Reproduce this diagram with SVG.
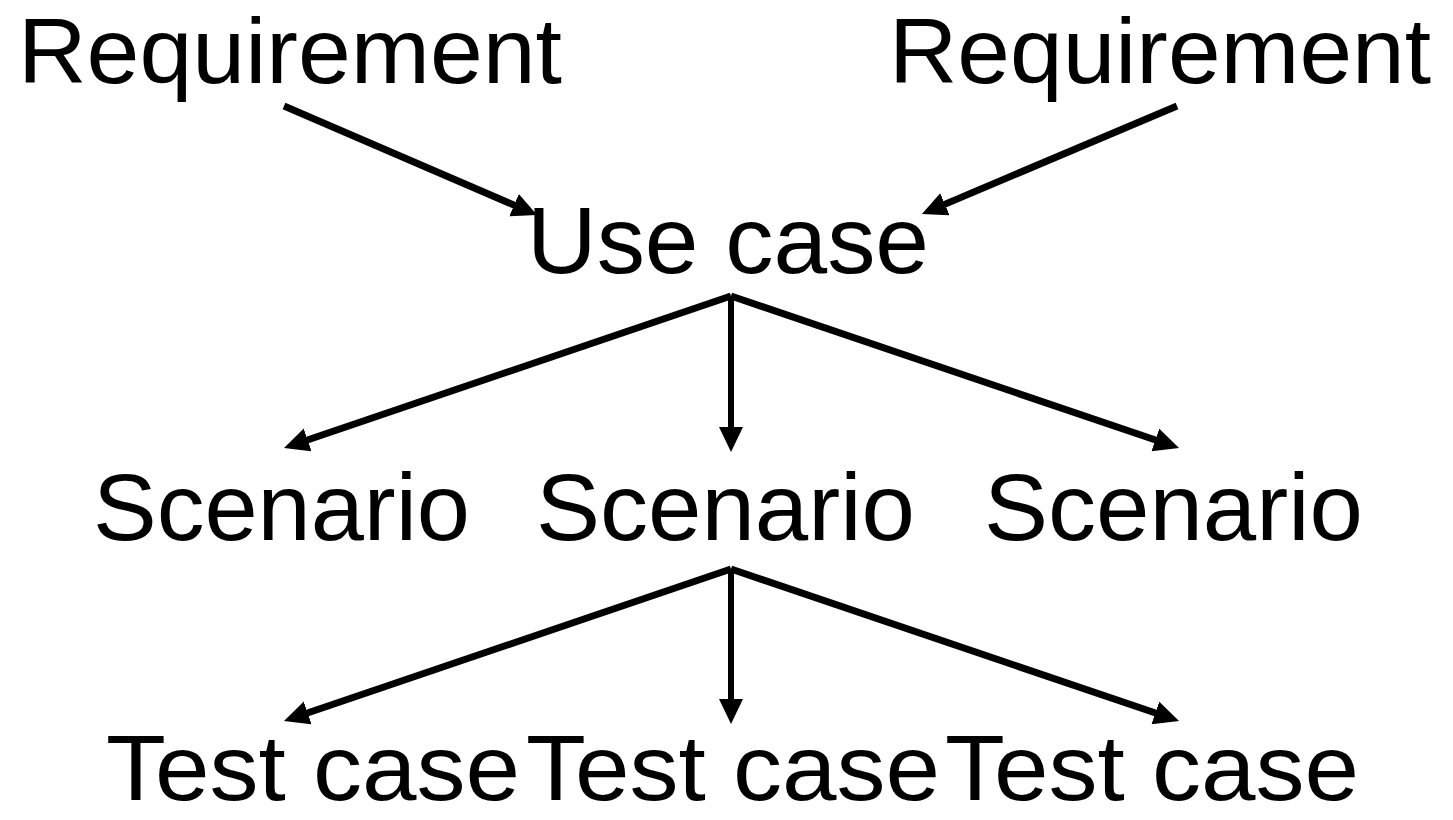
<svg xmlns="http://www.w3.org/2000/svg" width="1453" height="820" viewBox="0 0 1453 820">
  <style>
    .label { font-family: "Liberation Sans", Arial, sans-serif; font-size: 94px; fill: #000; }
    .top { font-size: 93px; }
    .small { font-size: 93px; }
    .edge { stroke: #000; stroke-width: 7; fill: none; marker-end: url(#arrow); }
    .edge.v { stroke-width: 6; }
  </style>
  <defs>
    <!-- head starts where the line ends, tip lies 24px further on -->
    <marker id="arrow" markerUnits="userSpaceOnUse" markerWidth="27" markerHeight="26" refX="1" refY="12" orient="auto">
      <path d="M0,0 L25,12 L0,24 Z" fill="#000"/>
    </marker>
  </defs>
  <rect width="1453" height="820" fill="#fff"/>

  <g id="connectors">
    <line class="edge" x1="284" y1="106" x2="515" y2="205.5"/>
    <line class="edge" x1="1177" y1="106" x2="944" y2="204.6"/>
    <line class="edge" x1="731" y1="296" x2="306.7" y2="440.3"/>
    <line class="edge v" x1="731" y1="296" x2="731" y2="428"/>
    <line class="edge" x1="731" y1="296" x2="1156.3" y2="440.3"/>
    <line class="edge" x1="731" y1="569" x2="306.7" y2="713.3"/>
    <line class="edge v" x1="731" y1="569" x2="731" y2="700"/>
    <line class="edge" x1="731" y1="569" x2="1156.3" y2="713.3"/>
  </g>

  <g id="req-left"><text class="label top" x="18" y="83" textLength="544" lengthAdjust="spacingAndGlyphs">Requirement</text></g>
  <g id="req-right"><text class="label top" x="889" y="83" textLength="542" lengthAdjust="spacingAndGlyphs">Requirement</text></g>
  <g id="use-case"><text class="label" x="527" y="273" textLength="402" lengthAdjust="spacingAndGlyphs">Use case</text></g>
  <g id="scenario-1"><text class="label" x="93" y="540" textLength="377" lengthAdjust="spacingAndGlyphs">Scenario</text></g>
  <g id="scenario-2"><text class="label" x="536" y="540" textLength="379" lengthAdjust="spacingAndGlyphs">Scenario</text></g>
  <g id="scenario-3"><text class="label" x="984" y="540" textLength="379" lengthAdjust="spacingAndGlyphs">Scenario</text></g>
  <g id="test-1"><text class="label small" x="106" y="800" textLength="414" lengthAdjust="spacingAndGlyphs">Test case</text></g>
  <g id="test-2"><text class="label small" x="526" y="800" textLength="414" lengthAdjust="spacingAndGlyphs">Test case</text></g>
  <g id="test-3"><text class="label small" x="945" y="800" textLength="414" lengthAdjust="spacingAndGlyphs">Test case</text></g>
</svg>
